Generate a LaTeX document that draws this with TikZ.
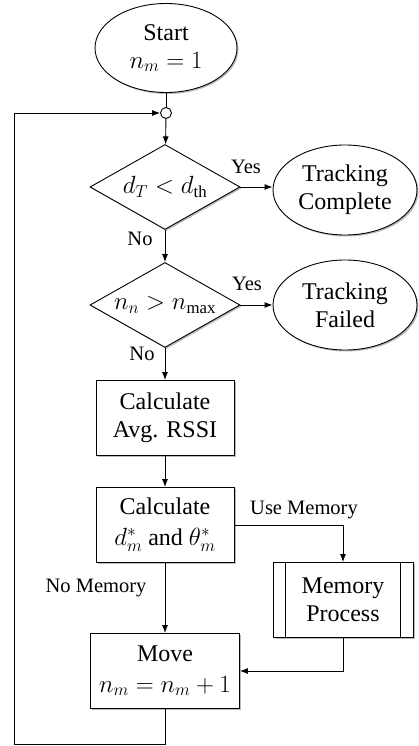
\documentclass[tikz,border=0pt]{standalone}
\usepackage{fontspec}
\setmainfont{Liberation Serif}
\usetikzlibrary{shapes.geometric,arrows.meta,shadows}
\begin{document}
\begin{tikzpicture}[x=1pt,y=-1pt,
  every node/.style={inner sep=0pt},
  base/.style={draw,line width=0.9pt,fill=white,align=center,
    font=\fontsize{24}{28}\selectfont,
    drop shadow={shadow xshift=1.5pt,shadow yshift=-1.5pt,fill=black!45,opacity=0.6}},
  term/.style={base,ellipse,minimum width=144pt,minimum height=90pt},
  decision/.style={base,diamond,aspect=1.76,minimum width=150pt,minimum height=85pt},
  proc/.style={base,rectangle,minimum width=138pt,minimum height=75pt},
  lbl/.style={font=\fontsize{20.5}{24}\selectfont},
  conn/.style={line width=0.9pt},
  arr/.style={conn,-{Latex[length=8pt,width=6pt]}}]
\useasboundingbox (0,0) rectangle (418,746);

\node[term,minimum width=142pt,minimum height=89pt] (start) at (166,48) {Start\\$n_m=1$};
\node[circle,draw,line width=0.9pt,fill=white,minimum size=11pt] (j) at (166,113) {};
\node[decision] (d1) at (165,187) {$d_T<d_{\mathrm{th}}$};
\node[term] (tc) at (345,190) {Tracking\\Complete};
\node[decision] (d2) at (165,305) {$n_n>n_{\max}$};
\node[term] (tf) at (345,305) {Tracking\\Failed};
\node[proc] (rssi) at (165,418) {Calculate\\Avg. RSSI};
\node[proc] (calc) at (165,525) {Calculate\\[3pt]$d_m^*$ and $\theta_m^*$};
\node[proc,minimum width=140pt] (mp) at (343,600) {Memory\\Process};
\draw[conn] ([xshift=13pt]mp.north west) -- ([xshift=13pt]mp.south west);
\draw[conn] ([xshift=-13pt]mp.north east) -- ([xshift=-13pt]mp.south east);
\node[proc,minimum width=149pt] (move) at (165,671) {Move\\[2pt]$n_m=n_m+1$};

\coordinate (bl) at (14,744);
\coordinate (tl) at (14,113);

\draw[conn] (start) -- (j);
\draw[arr] (j) -- (d1);
\draw[arr] (d1.east) -- (tc.west |- d1.east);
\draw[arr] (d1) -- (d2);
\draw[arr] (d2.east) -- (tf.west |- d2.east);
\draw[arr] (d2) -- (rssi);
\draw[arr] (rssi) -- (calc);
\draw[arr] (calc.east) -| (mp.north);
\draw[arr] (calc) -- (move);
\draw[arr] (mp.south) |- (move.east);
\draw[arr] (move.south) |- (bl) -- (tl) -- (j.west);

\node[lbl] at (246,167) {Yes};
\node[lbl] at (140,239) {No};
\node[lbl] at (247,284) {Yes};
\node[lbl] at (142,354) {No};
\node[lbl] at (304,510) {Use Memory};
\node[lbl] at (96,588) {No Memory};
\end{tikzpicture}
\end{document}
